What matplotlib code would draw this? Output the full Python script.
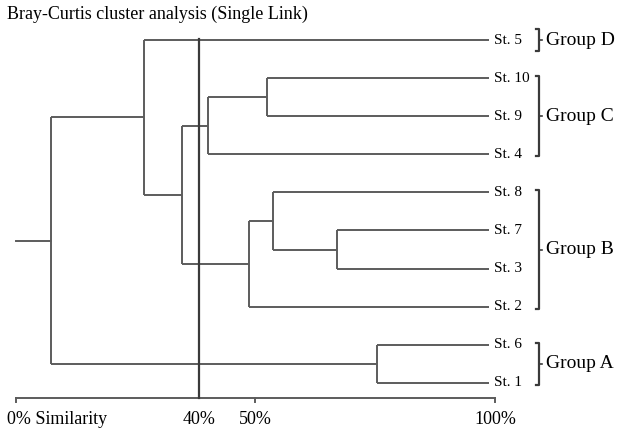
import matplotlib.pyplot as plt

# leaves from top to bottom
stations = ["St. 5", "St. 10", "St. 9", "St. 4", "St. 8",
            "St. 7", "St. 3", "St. 2", "St. 6", "St. 1"]
# merges: (node a, node b, similarity %); new node ids start at 10
merges = [
    (1, 2, 52.4),
    (10, 3, 40.1),
    (5, 6, 67.0),
    (4, 12, 53.7),
    (13, 7, 48.6),
    (11, 14, 34.7),
    (0, 15, 26.7),
    (8, 9, 75.4),
    (16, 17, 7.3),
]
groups = ["Group D", "Group C", "Group B", "Group A"]
group_members = [(0, 0), (1, 3), (4, 7), (8, 9)]
cut_level = 38.2
tick_pos = [0, cut_level, 50, 100]
tick_labels = ["0% Similarity", "40%", "50%", "100%"]

LEAF_X = 98.7
col = "#5c5c5c"
lw = 1.4

fig = plt.figure(figsize=(6.18, 4.32), dpi=100)
ax = fig.add_axes([0, 0, 1, 1])
ax.set_xlim(-3.34, 125.7)
ax.set_ylim(10.29, -1.05)
ax.axis("off")
plt.rcParams["font.family"] = "Liberation Serif"

pos = {i: (LEAF_X, float(i)) for i in range(len(stations))}
for k, (a, b, s) in enumerate(merges):
    xa, ya = pos[a]
    xb, yb = pos[b]
    ax.plot([xa, s], [ya, ya], color=col, lw=lw, solid_capstyle="butt")
    ax.plot([xb, s], [yb, yb], color=col, lw=lw, solid_capstyle="butt")
    ax.plot([s, s], [ya, yb], color=col, lw=lw, solid_capstyle="butt")
    pos[len(stations) + k] = (s, (ya + yb) / 2)

# root stub
rx, ry = pos[len(stations) + len(merges) - 1]
ax.plot([0, rx], [ry, ry], color=col, lw=lw)

for i, name in enumerate(stations):
    ax.text(LEAF_X + 1.1, i, name, fontsize=11, va="center", ha="left",
            family="Liberation Serif")

# similarity axis
axis_y = 9.4
ax.plot([0, 100], [axis_y, axis_y], color=col, lw=lw)
for p in [0, 50, 100]:
    ax.plot([p, p], [axis_y, axis_y + 0.11], color=col, lw=lw)
ax.plot([cut_level, cut_level], [-0.03, axis_y], color="#3a3a3a", lw=1.6)
for p, lab in zip(tick_pos, tick_labels):
    if p == 0:
        ax.text(-1.9, 9.97, lab, fontsize=13, va="center", ha="left",
                family="Liberation Serif")
    else:
        ax.text(p, 9.97, lab, fontsize=13, va="center", ha="center",
                family="Liberation Serif")

# group brackets
bx = 109.2
for g, (first, last) in zip(groups, group_members):
    pad = 0.28 if first == last else 0.05
    top, bot = first - pad, last + pad
    mid = (first + last) / 2
    ax.plot([bx - 0.6, bx, bx, bx - 0.6], [top, top, bot, bot],
            color="#3a3a3a", lw=1.6)
    ax.plot([bx, bx + 0.6], [mid, mid], color="#3a3a3a", lw=1.2)
    ax.text(bx + 1.4, mid, g, fontsize=14, va="center", ha="left",
            family="Liberation Serif")

ax.text(-1.9, -0.68, "Bray-Curtis cluster analysis (Single Link)",
        fontsize=13, va="center", ha="left", family="Liberation Serif")

fig.savefig("out.png", dpi=100)
